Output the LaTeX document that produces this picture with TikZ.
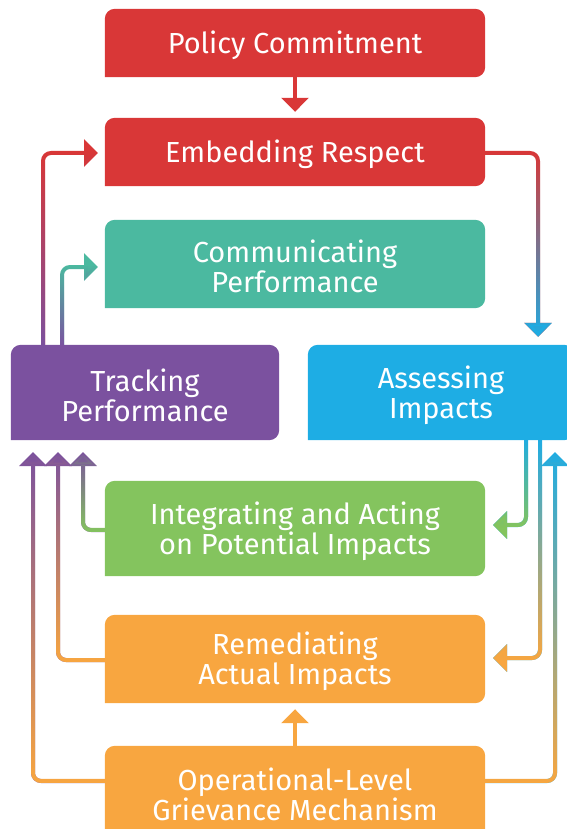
\documentclass[tikz,border=0pt]{standalone}
\usepackage{fontspec}
\setmainfont{Fira Sans}
\usetikzlibrary{arrows.meta,fadings}
\definecolor{cred}{HTML}{D93737}
\definecolor{cteal}{HTML}{4BB9A0}
\definecolor{cpurple}{HTML}{7B519F}
\definecolor{cblue}{HTML}{1EADE4}
\definecolor{cgreen}{HTML}{84C45E}
\definecolor{corange}{HTML}{F8A640}
\tikzfading[name=upfade, top color=transparent!100, bottom color=transparent!0]
\tikzset{
  box/.style={rectangle, inner sep=0pt, text=white, align=center,
    font=\fontsize{29}{30}\selectfont},
  lbl/.style={box, yshift=-2.5pt},
  conn/.style={line width=4pt, rounded corners=8pt,
    -{Triangle[width=27pt,length=14pt]}},
}
\newcommand\shapebox[2]{% #1 node, #2 colour
  \fill[#2] (#1.west) [rounded corners=10pt] -- (#1.north west) -- (#1.north east)
    -- (#1.south east) [sharp corners] -- (#1.south west) -- cycle;}
\newcommand\gline[3]{% #1 top colour, #2 bottom colour, #3 path
  \draw[conn, draw=#1] #3;
  \draw[conn, draw=#2, path fading=upfade] #3;}
\begin{document}
\begin{tikzpicture}[x=1pt,y=-1pt]
\useasboundingbox (0,0) rectangle (566,829);
% nodes (text)
\node[box, minimum width=380pt, minimum height=68pt] (pol) at (295,43) {};
\node[box, minimum width=380pt, minimum height=68pt] (emb) at (295,152) {};
\node[box, minimum width=380pt, minimum height=88pt] (com) at (295,264) {};
\node[box, minimum width=268pt, minimum height=95pt] (trk) at (145,392.5) {};
\node[box, minimum width=266pt, minimum height=95pt] (ass) at (441,392.5) {};
\node[box, minimum width=380pt, minimum height=95pt] (int) at (295,528.5) {};
\node[box, minimum width=380pt, minimum height=88pt] (rem) at (295,659) {};
\node[box, minimum width=380pt, minimum height=92pt] (ope) at (295,792) {};
\shapebox{pol}{cred}
\shapebox{emb}{cred}
\shapebox{com}{cteal}
\shapebox{trk}{cpurple}
\shapebox{ass}{cblue}
\shapebox{int}{cgreen}
\shapebox{rem}{corange}
\shapebox{ope}{corange}
\node[lbl] (tpol) at (pol.center) {Policy Commitment};
\node[lbl] (temb) at (emb.center) {Embedding Respect};
\node[lbl] (tcom) at (com.center) {Communicating\\Performance};
\node[lbl] (ttrk) at (trk.center) {Tracking\\Performance};
\node[lbl] (tass) at (ass.center) {Assessing\\Impacts};
\node[lbl] (tint) at (int.center) {Integrating and Acting\\on Potential Impacts};
\node[lbl] (trem) at (rem.center) {Remediating\\Actual Impacts};
\node[lbl] (tope) at (ope.center) {Operational-Level\\Grievance Mechanism};
% lane coordinates
\coordinate (l1) at (43,0);
\coordinate (l2) at (62,0);
\coordinate (l3) at (33,0);
\coordinate (l4) at (58,0);
\coordinate (l5) at (83,0);
\coordinate (r1) at (538,0);
\coordinate (r2) at (526,0);
\coordinate (r3) at (540,0);
\coordinate (r4) at (555,0);
\coordinate (tipL) at (98,0);
\coordinate (tipR) at (493,0);
\coordinate (tipU) at (0,452);
\coordinate (emby) at (0,153);
\coordinate (comy) at (0,267);
\coordinate (inty) at (0,525);
\coordinate (remy) at (0,658);
\coordinate (opey) at (0,781);
\coordinate (intly) at (0,530);
\coordinate (remly) at (0,660);
% straight arrows
\draw[conn, draw=cred] (pol.south) -- ([yshift=6pt]emb.north);
\draw[conn, draw=corange] (ope.north) -- ([yshift=-6pt]rem.south);
% gradient arrows
\gline{cred}{cpurple}{(l1 |- trk.north) |- (tipL |- emby)}
\gline{cteal}{cpurple}{(l2 |- trk.north) |- (tipL |- comy)}
\gline{cred}{cblue}{(emb.east |- emby) -| ([yshift=8pt]r1 |- ass.north)}
\gline{cblue}{cgreen}{(r2 |- ass.south) |- (tipR |- inty)}
\gline{cblue}{corange}{(r3 |- ass.south) |- (tipR |- remy)}
\gline{cblue}{corange}{(ope.east |- opey) -| (r4 |- tipU)}
\gline{cpurple}{cgreen}{(int.west |- intly) -| (l5 |- tipU)}
\gline{cpurple}{corange}{(rem.west |- remly) -| (l4 |- tipU)}
\gline{cpurple}{corange}{(ope.west |- opey) -| (l3 |- tipU)}
\end{tikzpicture}
\end{document}
